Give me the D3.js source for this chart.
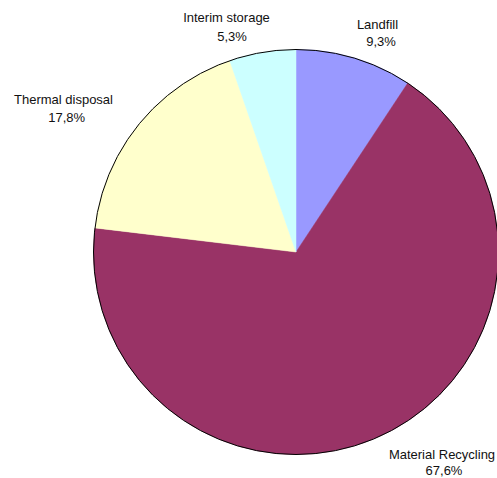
<!DOCTYPE html>
<html>
<head>
<meta charset="utf-8">
<script src="https://cdn.jsdelivr.net/npm/d3@7"></script>
<style>
  html, body { margin: 0; padding: 0; background: #fff; }
  svg { display: block; }
  text { font-family: "Liberation Sans", Arial, sans-serif; font-size: 13px; fill: #111; }
</style>
</head>
<body>
<svg id="chart" width="497" height="478"></svg>
<script>
// ---- data ----
const categories = ["Landfill", "Material Recycling", "Thermal disposal", "Interim storage"];
const shares = [9.3, 67.6, 17.8, 5.3];
const colors = ["#9999FF", "#993366", "#FFFFCC", "#CCFFFF"];

// ---- layout (label anchors: [x1, y1, x2, y2] for name line and percent line) ----
const labelLayout = [
  [377.5, 29, 381, 45.5],
  [442, 458.5, 444, 475],
  [63.5, 104, 66.7, 121.5],
  [226.5, 21.5, 232, 40.5]
];

const width = 497, height = 478;
const cx = 296, cy = 252, R = 202.5;

const svg = d3.select("#chart");
const g = svg.append("g").attr("transform", `translate(${cx},${cy})`);

const pie = d3.pie().sort(null).value(d => d.value);
const data = categories.map((c, i) => ({ name: c, value: shares[i], color: colors[i] }));
const arcs = pie(data);
const arc = d3.arc().innerRadius(0).outerRadius(R);

g.selectAll("path.slice")
  .data(arcs)
  .enter().append("path")
  .attr("class", "slice")
  .attr("d", arc)
  .attr("fill", d => d.data.color)
  .attr("stroke", d => d.data.color)
  .attr("stroke-width", 0.5);

// outer outline
g.append("circle")
  .attr("r", R)
  .attr("fill", "none")
  .attr("stroke", "#000")
  .attr("stroke-width", 1);

const fmt = d3.formatLocale({ decimal: ",", thousands: ".", grouping: [3], currency: ["", "€"] }).format(".1f");

const labels = svg.selectAll("g.lbl")
  .data(arcs)
  .enter().append("g").attr("class", "lbl");

labels.append("text")
  .attr("text-anchor", "middle")
  .attr("x", (d, i) => labelLayout[i][0])
  .attr("y", (d, i) => labelLayout[i][1])
  .text(d => d.data.name);

labels.append("text")
  .attr("text-anchor", "middle")
  .attr("x", (d, i) => labelLayout[i][2])
  .attr("y", (d, i) => labelLayout[i][3])
  .text(d => fmt(d.data.value) + "%");
</script>
</body>
</html>
